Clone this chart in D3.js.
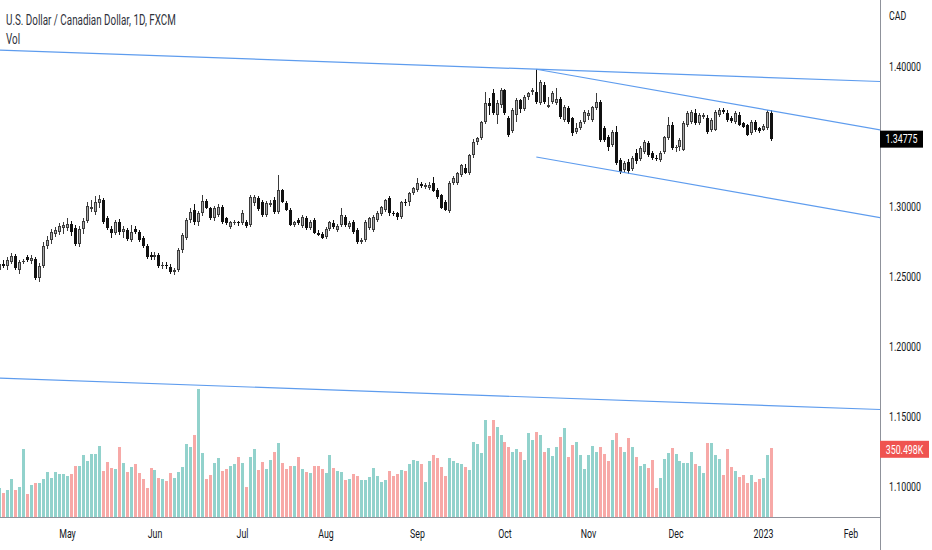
<!DOCTYPE html>
<html>
<head>
<meta charset="utf-8">
<title>USDCAD 1D</title>
<script src="https://cdn.jsdelivr.net/npm/d3@7/dist/d3.min.js"></script>
<style>
  html, body { margin: 0; padding: 0; background: #ffffff; overflow: hidden; }
  #chart svg { display: block; font-family: Roboto, "Noto Sans", sans-serif; }
</style>
</head>
<body>
<div id="chart"></div>
<script>
// Step 1: values
const firstDay = new Date(2022, 3, 7);   // first (partly hidden) daily bar
const lastDay = new Date(2023, 1, 10);   // time axis runs on past Feb 1

const monthLabels = ['May', 'Jun', 'Jul', 'Aug', 'Sep', 'Oct', 'Nov', 'Dec', '2023', 'Feb'];
const priceTicks = [1.40, 1.30, 1.25, 1.20, 1.15, 1.10];
const titleText = 'U.S. Dollar / Canadian Dollar, 1D, FXCM';
const volTitle = 'Vol';
const currency = 'CAD';
const lastPriceLabel = '1.34775';
const lastVolumeLabel = '350.498K';

const open = [
  1.2543, 1.2586, 1.2571, 1.2600, 1.2643, 1.2543, 1.2600, 1.2636, 1.2607, 1.2621,
  1.2486, 1.2571, 1.2714, 1.2757, 1.2800, 1.2814, 1.2843, 1.2843, 1.2871, 1.2843,
  1.2729, 1.2836, 1.2893, 1.2979, 1.2957, 1.3021, 1.3043, 1.2914, 1.2836, 1.2807,
  1.2886, 1.2814, 1.2829, 1.2757, 1.2836, 1.2814, 1.2771, 1.2714, 1.2650, 1.2636,
  1.2650, 1.2571, 1.2579, 1.2564, 1.2529, 1.2543, 1.2686, 1.2771, 1.2900, 1.2971,
  1.2886, 1.2950, 1.3036, 1.2986, 1.2914, 1.2936, 1.2993, 1.2914, 1.2850, 1.2879,
  1.2886, 1.2879, 1.2886, 1.2864, 1.3021, 1.3057, 1.3029, 1.2936, 1.3007, 1.3043,
  1.2957, 1.3114, 1.3021, 1.2971, 1.2864, 1.2900, 1.2857, 1.2914, 1.2843, 1.2900,
  1.2807, 1.2800, 1.2779, 1.2836, 1.2879, 1.2829, 1.2864, 1.2921, 1.2850, 1.2886,
  1.2829, 1.2743, 1.2757, 1.2843, 1.2829, 1.2900, 1.2943, 1.2971, 1.3057, 1.2950,
  1.2950, 1.2921, 1.3029, 1.3029, 1.3093, 1.3114, 1.3157, 1.3136, 1.3129, 1.3164,
  1.3114, 1.3079, 1.3029, 1.2964, 1.3164, 1.3164, 1.3221, 1.3271, 1.3236, 1.3364,
  1.3457, 1.3486, 1.3600, 1.3736, 1.3807, 1.3650, 1.3721, 1.3829, 1.3629, 1.3536,
  1.3650, 1.3757, 1.3693, 1.3779, 1.3814, 1.3814, 1.3736, 1.3864, 1.3707, 1.3743,
  1.3736, 1.3764, 1.3614, 1.3700, 1.3629, 1.3529, 1.3557, 1.3600, 1.3643, 1.3614,
  1.3700, 1.3743, 1.3557, 1.3493, 1.3436, 1.3529, 1.3329, 1.3257, 1.3314, 1.3264,
  1.3379, 1.3336, 1.3386, 1.3450, 1.3379, 1.3343, 1.3329, 1.3386, 1.3486, 1.3579,
  1.3414, 1.3421, 1.3400, 1.3579, 1.3600, 1.3664, 1.3593, 1.3636, 1.3629, 1.3543,
  1.3543, 1.3650, 1.3686, 1.3664, 1.3629, 1.3600, 1.3650, 1.3593, 1.3579, 1.3521,
  1.3600, 1.3557, 1.3543, 1.3557, 1.3664
];

const high = [
  1.2600, 1.2614, 1.2636, 1.2665, 1.2657, 1.2614, 1.2621, 1.2650, 1.2650, 1.2636,
  1.2593, 1.2743, 1.2786, 1.2836, 1.2850, 1.2879, 1.2886, 1.2914, 1.2893, 1.2864,
  1.2857, 1.2914, 1.3029, 1.3043, 1.3071, 1.3077, 1.3057, 1.2929, 1.2857, 1.2900,
  1.2907, 1.2857, 1.2843, 1.2864, 1.2857, 1.2829, 1.2786, 1.2729, 1.2671, 1.2671,
  1.2664, 1.2600, 1.2600, 1.2586, 1.2557, 1.2700, 1.2807, 1.2914, 1.2986, 1.3014,
  1.2964, 1.3079, 1.3050, 1.2993, 1.3000, 1.3014, 1.3007, 1.2921, 1.2893, 1.2900,
  1.2893, 1.2971, 1.2900, 1.3079, 1.3079, 1.3071, 1.3043, 1.3036, 1.3043, 1.3064,
  1.3221, 1.3121, 1.3036, 1.2986, 1.2893, 1.2914, 1.2936, 1.2929, 1.2900, 1.2914,
  1.2829, 1.2814, 1.2850, 1.2893, 1.2900, 1.2871, 1.2986, 1.2936, 1.2893, 1.2900,
  1.2843, 1.2771, 1.2900, 1.2921, 1.2936, 1.2964, 1.3000, 1.3050, 1.3071, 1.2964,
  1.2957, 1.3036, 1.3050, 1.3100, 1.3136, 1.3200, 1.3171, 1.3164, 1.3171, 1.3207,
  1.3129, 1.3086, 1.3043, 1.3179, 1.3214, 1.3243, 1.3300, 1.3300, 1.3371, 1.3479,
  1.3493, 1.3607, 1.3814, 1.3771, 1.3836, 1.3757, 1.3843, 1.3836, 1.3643, 1.3700,
  1.3771, 1.3764, 1.3793, 1.3814, 1.3843, 1.3977, 1.3900, 1.3886, 1.3779, 1.3821,
  1.3843, 1.3779, 1.3721, 1.3714, 1.3636, 1.3593, 1.3614, 1.3686, 1.3686, 1.3714,
  1.3807, 1.3757, 1.3571, 1.3507, 1.3543, 1.3571, 1.3343, 1.3321, 1.3336, 1.3357,
  1.3407, 1.3429, 1.3471, 1.3464, 1.3393, 1.3364, 1.3393, 1.3500, 1.3636, 1.3600,
  1.3436, 1.3486, 1.3607, 1.3679, 1.3686, 1.3693, 1.3664, 1.3664, 1.3650, 1.3629,
  1.3686, 1.3700, 1.3700, 1.3686, 1.3643, 1.3679, 1.3671, 1.3600, 1.3586, 1.3614,
  1.3614, 1.3564, 1.3586, 1.3686, 1.3686
];

const low = [
  1.2520, 1.2557, 1.2543, 1.2586, 1.2543, 1.2514, 1.2586, 1.2600, 1.2586, 1.2471,
  1.2457, 1.2557, 1.2693, 1.2729, 1.2779, 1.2793, 1.2800, 1.2821, 1.2786, 1.2714,
  1.2707, 1.2800, 1.2879, 1.2957, 1.2936, 1.2986, 1.2871, 1.2829, 1.2771, 1.2793,
  1.2793, 1.2771, 1.2750, 1.2743, 1.2800, 1.2743, 1.2700, 1.2621, 1.2614, 1.2614,
  1.2557, 1.2550, 1.2550, 1.2514, 1.2507, 1.2529, 1.2664, 1.2757, 1.2879, 1.2864,
  1.2857, 1.2929, 1.2979, 1.2900, 1.2893, 1.2921, 1.2871, 1.2864, 1.2836, 1.2864,
  1.2857, 1.2864, 1.2843, 1.2850, 1.3000, 1.2964, 1.2921, 1.2921, 1.2993, 1.2943,
  1.2943, 1.3021, 1.2964, 1.2857, 1.2850, 1.2864, 1.2843, 1.2829, 1.2829, 1.2800,
  1.2786, 1.2764, 1.2764, 1.2821, 1.2836, 1.2814, 1.2850, 1.2850, 1.2836, 1.2800,
  1.2729, 1.2729, 1.2743, 1.2829, 1.2814, 1.2886, 1.2929, 1.2957, 1.2929, 1.2929,
  1.2900, 1.2907, 1.3000, 1.3000, 1.3079, 1.3100, 1.3129, 1.3121, 1.3114, 1.3100,
  1.3050, 1.2979, 1.2964, 1.2950, 1.3150, 1.3150, 1.3207, 1.3229, 1.3221, 1.3343,
  1.3436, 1.3471, 1.3586, 1.3650, 1.3650, 1.3586, 1.3700, 1.3650, 1.3493, 1.3521,
  1.3600, 1.3664, 1.3679, 1.3757, 1.3793, 1.3729, 1.3721, 1.3729, 1.3700, 1.3729,
  1.3721, 1.3621, 1.3600, 1.3586, 1.3500, 1.3514, 1.3543, 1.3586, 1.3614, 1.3600,
  1.3686, 1.3457, 1.3457, 1.3393, 1.3421, 1.3293, 1.3229, 1.3236, 1.3226, 1.3250,
  1.3300, 1.3321, 1.3371, 1.3350, 1.3329, 1.3321, 1.3314, 1.3371, 1.3471, 1.3400,
  1.3386, 1.3393, 1.3393, 1.3564, 1.3586, 1.3579, 1.3579, 1.3621, 1.3514, 1.3529,
  1.3536, 1.3636, 1.3657, 1.3600, 1.3593, 1.3586, 1.3571, 1.3557, 1.3500, 1.3507,
  1.3529, 1.3521, 1.3536, 1.3543, 1.3464
];

const close = [
  1.2586, 1.2571, 1.2614, 1.2643, 1.2557, 1.2600, 1.2607, 1.2614, 1.2629, 1.2486,
  1.2571, 1.2714, 1.2757, 1.2814, 1.2829, 1.2857, 1.2864, 1.2871, 1.2814, 1.2729,
  1.2836, 1.2893, 1.3000, 1.2993, 1.3029, 1.3050, 1.2886, 1.2843, 1.2807, 1.2886,
  1.2814, 1.2836, 1.2764, 1.2814, 1.2814, 1.2757, 1.2714, 1.2636, 1.2636, 1.2650,
  1.2571, 1.2579, 1.2571, 1.2529, 1.2543, 1.2686, 1.2793, 1.2900, 1.2957, 1.2886,
  1.2950, 1.3036, 1.2986, 1.2914, 1.2986, 1.2993, 1.2886, 1.2879, 1.2886, 1.2886,
  1.2879, 1.2950, 1.2857, 1.3064, 1.3064, 1.2979, 1.2936, 1.3021, 1.3021, 1.2957,
  1.3114, 1.3029, 1.2971, 1.2864, 1.2886, 1.2879, 1.2921, 1.2843, 1.2886, 1.2807,
  1.2793, 1.2771, 1.2836, 1.2886, 1.2850, 1.2857, 1.2936, 1.2864, 1.2879, 1.2814,
  1.2743, 1.2757, 1.2886, 1.2914, 1.2921, 1.2950, 1.2993, 1.3043, 1.2950, 1.2943,
  1.2921, 1.3029, 1.3021, 1.3093, 1.3129, 1.3164, 1.3143, 1.3150, 1.3150, 1.3107,
  1.3064, 1.2986, 1.2971, 1.3164, 1.3200, 1.3236, 1.3293, 1.3236, 1.3364, 1.3457,
  1.3486, 1.3600, 1.3736, 1.3714, 1.3664, 1.3736, 1.3829, 1.3664, 1.3507, 1.3686,
  1.3757, 1.3693, 1.3779, 1.3807, 1.3829, 1.3743, 1.3886, 1.3743, 1.3721, 1.3807,
  1.3764, 1.3636, 1.3707, 1.3600, 1.3521, 1.3557, 1.3600, 1.3671, 1.3664, 1.3707,
  1.3743, 1.3471, 1.3471, 1.3421, 1.3529, 1.3307, 1.3243, 1.3307, 1.3250, 1.3343,
  1.3321, 1.3414, 1.3457, 1.3364, 1.3343, 1.3336, 1.3379, 1.3493, 1.3579, 1.3414,
  1.3421, 1.3471, 1.3593, 1.3664, 1.3671, 1.3593, 1.3650, 1.3650, 1.3529, 1.3614,
  1.3671, 1.3686, 1.3671, 1.3614, 1.3607, 1.3664, 1.3579, 1.3564, 1.3507, 1.3600,
  1.3543, 1.3536, 1.3571, 1.3671, 1.34775
];

// volume, thousands
const volume = [
  146, 121, 138, 192, 138, 155, 345, 117, 163, 175,
  175, 192, 228, 197, 228, 218, 218, 209, 218, 262,
  262, 316, 287, 321, 321, 362, 235, 282, 251, 245,
  359, 274, 230, 257, 270, 226, 192, 146, 251, 240,
  197, 192, 185, 223, 197, 230, 257, 372, 359, 418,
  653, 328, 192, 216, 274, 299, 235, 245, 262, 270,
  304, 274, 151, 304, 345, 240, 282, 245, 291, 333,
  379, 274, 245, 262, 262, 304, 245, 228, 223, 262,
  262, 245, 223, 316, 251, 235, 231, 189, 192, 218,
  209, 189, 189, 206, 251, 209, 180, 189, 235, 209,
  218, 240, 235, 269, 291, 287, 269, 180, 287, 316,
  299, 257, 209, 299, 287, 274, 269, 257, 240, 384,
  371, 328, 495, 413, 495, 457, 418, 384, 359, 333,
  345, 333, 291, 430, 393, 435, 418, 333, 350, 311,
  359, 406, 452, 304, 366, 383, 316, 245, 316, 364,
  333, 359, 321, 287, 393, 427, 359, 333, 401, 359,
  304, 262, 270, 251, 291, 146, 197, 294, 328, 350,
  321, 287, 277, 277, 330, 270, 262, 223, 376, 376,
  316, 294, 214, 345, 257, 235, 202, 214, 175, 214,
  180, 192, 197, 316, 350.498
];

// trend lines drawn on the chart, as [bar index, price] anchors
const lineStart = [[0, 1.4114], [135, 1.3977], [135, 1.3350], [0, 1.1771]];
const lineEnd = [[135, 1.3977], [193, 1.3686], [193, 1.3059], [135, 1.1634]];
const lineExtendLeft = [true, false, false, true];

// Step 2: layout and scales
const W = 932, H = 550;
const paneRight = 880, paneBottom = 517;

const days = d3.timeDay.range(firstDay, lastDay).filter(d => d.getDay() !== 0 && d.getDay() !== 6);
const bars = close.map((c, i) => ({ i, date: days[i], o: open[i], h: high[i], l: low[i], c, v: volume[i] }));
const monthStarts = days.map((d, i) => i).filter(i => i > 0 && days[i].getMonth() !== days[i - 1].getMonth());

// bar index -> pixel, calibrated on the May 2 and Jan 2 bars
const x = d3.scaleLinear().domain([17, 192]).range([67, 763]);
const y = d3.scaleLinear().domain([1.10, 1.40]).range([486, 66]);
const yVol = d3.scaleLinear().domain([0, d3.max(volume)]).range([paneBottom, 389]);

const svg = d3.select('#chart').append('svg')
  .attr('width', W)
  .attr('height', H)
  .attr('viewBox', `0 0 ${W} ${H}`);

svg.append('rect').attr('width', W).attr('height', H).attr('fill', '#ffffff');

svg.append('clipPath').attr('id', 'pane')
  .append('rect').attr('width', paneRight).attr('height', paneBottom);

const pane = svg.append('g').attr('clip-path', 'url(#pane)');

// Step 3: volume bars
pane.append('g')
  .attr('shape-rendering', 'crispEdges')
  .selectAll('rect')
  .data(bars)
  .join('rect')
  .attr('x', d => Math.round(x(d.i)) - 1)
  .attr('width', 3)
  .attr('y', d => yVol(d.v))
  .attr('height', d => paneBottom - yVol(d.v))
  .attr('fill', d => d.c >= d.o ? '#92d2cc' : '#f7a9a7');

// Step 4: candles (up bodies look grey in the reference, down bodies black)
const candles = pane.append('g')
  .attr('shape-rendering', 'crispEdges')
  .selectAll('g')
  .data(bars)
  .join('g');

const isUp = d => d.c >= d.o;

candles.append('rect')
  .attr('x', d => Math.round(x(d.i)))
  .attr('width', 1)
  .attr('y', d => Math.round(y(d.h)))
  .attr('height', d => Math.max(1, Math.round(y(d.l)) - Math.round(y(d.h))))
  .attr('fill', d => isUp(d) ? '#3b3b3b' : '#111111');

function bodyTop(d) { return Math.round(y(Math.max(d.o, d.c))); }
function bodyHeight(d) { return Math.max(1, Math.round(y(Math.min(d.o, d.c))) - bodyTop(d)); }

candles.append('rect')
  .attr('x', d => Math.round(x(d.i)) - 1)
  .attr('width', 3)
  .attr('y', bodyTop)
  .attr('height', bodyHeight)
  .attr('fill', d => isUp(d) ? '#3b3b3b' : '#111111');

candles.filter(d => isUp(d) && bodyHeight(d) > 2)
  .append('rect')
  .attr('x', d => Math.round(x(d.i)))
  .attr('width', 1)
  .attr('y', d => bodyTop(d) + 1)
  .attr('height', d => bodyHeight(d) - 2)
  .attr('fill', '#a9a9a9');

// Step 5: trend lines
const trend = d3.line().x(d => x(d[0])).y(d => y(d[1]));
lineStart.forEach((a, k) => {
  const b = lineEnd[k];
  const slope = (b[1] - a[1]) / (b[0] - a[0]);
  const from = lineExtendLeft[k] ? x.invert(-2) : a[0];
  const to = x.invert(paneRight + 2);
  const pts = [[from, a[1] + slope * (from - a[0])], [to, a[1] + slope * (to - a[0])]];
  pane.append('path')
    .attr('d', trend(pts))
    .attr('fill', 'none')
    .attr('stroke', '#5e9cee')
    .attr('stroke-width', 1.2);
});

// Step 6: axes
const textColor = '#131722';

const xAxis = svg.append('g')
  .attr('transform', `translate(0,${paneBottom})`)
  .call(d3.axisBottom(x).tickValues(monthStarts).tickFormat((d, i) => monthLabels[i]).tickSize(0).tickPadding(12));
xAxis.select('.domain').remove();
xAxis.selectAll('text').attr('font-size', 12.5).attr('fill', textColor).attr('font-family', 'Roboto, sans-serif');

const yAxis = svg.append('g')
  .attr('transform', `translate(${paneRight},0)`)
  .call(d3.axisRight(y).tickValues(priceTicks).tickFormat(d3.format('.5f')).tickSize(0).tickPadding(9));
yAxis.select('.domain').remove();
yAxis.selectAll('text').attr('font-size', 12.5).attr('fill', textColor).attr('font-family', 'Roboto, sans-serif');

svg.append('line')
  .attr('x1', paneRight + 0.5).attr('x2', paneRight + 0.5)
  .attr('y1', 0).attr('y2', H)
  .attr('stroke', '#8f929b');
svg.append('line')
  .attr('x1', 0).attr('x2', paneRight)
  .attr('y1', paneBottom + 0.5).attr('y2', paneBottom + 0.5)
  .attr('stroke', '#8f929b');

svg.append('text')
  .attr('x', 889).attr('y', 20)
  .attr('font-size', 12.5).attr('fill', textColor)
  .text(currency);

// last price and last volume tags
const lastBar = bars[bars.length - 1];
const priceTag = svg.append('g').attr('transform', `translate(${paneRight},${y(lastBar.c)})`);
priceTag.append('rect').attr('x', 0).attr('y', -8.5).attr('width', 43).attr('height', 17).attr('fill', '#000000');
priceTag.append('text').attr('x', 21.5).attr('y', 4.3).attr('text-anchor', 'middle')
  .attr('font-size', 12.5).attr('fill', '#ffffff').text(lastPriceLabel);

const volTag = svg.append('g').attr('transform', `translate(${paneRight},${yVol(lastBar.v) + 1})`);
volTag.append('rect').attr('x', 0).attr('y', -8.5).attr('width', 49).attr('height', 17).attr('fill', '#ef5350');
volTag.append('text').attr('x', 24.5).attr('y', 4.3).attr('text-anchor', 'middle')
  .attr('font-size', 12.5).attr('fill', '#ffffff').text(lastVolumeLabel);

// Step 7: legend text top left
const title = svg.append('text')
  .attr('x', 6).attr('y', 25)
  .attr('font-size', 14).attr('fill', '#2f323b')
  .text(titleText);
svg.append('text')
  .attr('x', 6).attr('y', 43.5)
  .attr('font-size', 14).attr('fill', '#2f323b')
  .text(volTitle);

// the reference is squeezed sideways, so narrow every label the same way
const squeeze = 170 / title.node().getComputedTextLength();
svg.selectAll('text').each(function () {
  const t = d3.select(this);
  const tx = +t.attr('x') || 0;
  const ty = +t.attr('y') || 0;
  t.attr('x', 0).attr('y', 0)
    .attr('transform', `translate(${tx},${ty}) scale(${squeeze},1)`);
});
</script>
</body>
</html>
